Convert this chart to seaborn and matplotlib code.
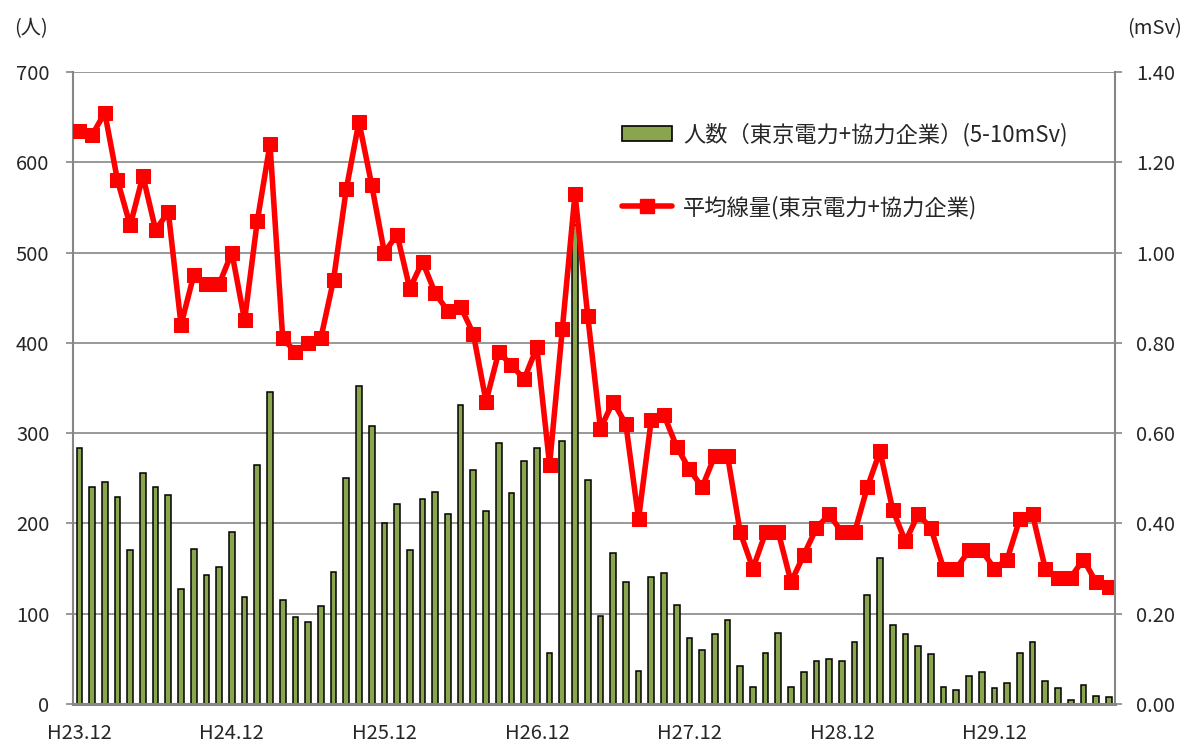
import matplotlib
matplotlib.use("Agg")
import matplotlib.pyplot as plt
from matplotlib.lines import Line2D
from matplotlib.patches import Patch
import numpy as np
import seaborn as sns

sns.set_style("white")
plt.rcParams["font.family"] = ["Noto Sans CJK JP", "DejaVu Sans"]

# monthly data from H23.12 onwards
months = [f"H{23 + (i + 11) // 12}.{(i + 11) % 12 + 1}" for i in range(82)]
people = [284, 240, 246, 229, 170, 256, 240, 231, 127, 172,
          143, 152, 190, 118, 265, 346, 115, 96, 91, 108,
          146, 250, 352, 308, 201, 221, 171, 227, 235, 210,
          331, 259, 214, 289, 234, 269, 284, 56, 291, 530,
          248, 97, 167, 135, 36, 141, 145, 110, 73, 60,
          78, 93, 42, 19, 56, 79, 19, 35, 48, 50,
          48, 69, 121, 162, 87, 78, 64, 55, 19, 15,
          31, 35, 18, 23, 56, 69, 26, 18, 4, 21,
          9, 8]
dose = [1.27, 1.26, 1.31, 1.16, 1.06, 1.17, 1.05, 1.09, 0.84, 0.95,
        0.93, 0.93, 1.00, 0.85, 1.07, 1.24, 0.81, 0.78, 0.80, 0.81,
        0.94, 1.14, 1.29, 1.15, 1.00, 1.04, 0.92, 0.98, 0.91, 0.87,
        0.88, 0.82, 0.67, 0.78, 0.75, 0.72, 0.79, 0.53, 0.83, 1.13,
        0.86, 0.61, 0.67, 0.62, 0.41, 0.63, 0.64, 0.57, 0.52, 0.48,
        0.55, 0.55, 0.38, 0.30, 0.38, 0.38, 0.27, 0.33, 0.39, 0.42,
        0.38, 0.38, 0.48, 0.56, 0.43, 0.36, 0.42, 0.39, 0.30, 0.30,
        0.34, 0.34, 0.30, 0.32, 0.41, 0.42, 0.30, 0.28, 0.28, 0.32,
        0.27, 0.26]

bar_label = "人数（東京電力+協力企業）(5-10mSv)"
line_label = "平均線量(東京電力+協力企業)"
BAR_COLOR = "#89A54E"
GRID = "#868686"
FS = 14.5

fig = plt.figure(figsize=(11.91, 7.44), dpi=100)
ax = fig.add_axes([0.0613, 0.0538, 0.875, 0.8494])

sns.barplot(x=months, y=people, color=BAR_COLOR, saturation=1, width=0.45,
            edgecolor="black", linewidth=1.1, ax=ax)
n = len(months)
ax.set_xlim(-0.5, n - 0.5)
ax.set_ylim(0, 700)
ax.set_yticks(range(0, 701, 100))
ax.yaxis.grid(True, color=GRID, lw=1.2)
ax.set_axisbelow(True)
ax.set_xticks(range(0, n, 12))
ax.set_xticklabels([months[i] for i in range(0, n, 12)])
ax.tick_params(axis="x", length=0, pad=14, labelsize=FS)
ax.tick_params(axis="y", length=5, width=1.2, color=GRID, pad=12, labelsize=FS, left=True)
ax.set_xlabel("")
ax.set_ylabel("")
ax.spines["top"].set_visible(False)
ax.spines["right"].set_visible(False)
ax.spines["left"].set_color(GRID)
ax.spines["left"].set_linewidth(1.5)
ax.spines["bottom"].set_color(GRID)
ax.spines["bottom"].set_linewidth(2.2)

ax2 = ax.twinx()
sns.lineplot(x=np.arange(n), y=dose, ax=ax2, color="#FF0000", lw=4,
             marker="s", markersize=9.5, markeredgecolor="#FF0000")
ax2.set_ylim(0, 1.4)
ax2.set_yticks(np.arange(0, 1.41, 0.2))
ax2.set_yticklabels([f"{v:.2f}" for v in np.arange(0, 1.41, 0.2)])
ax2.tick_params(axis="y", length=5, width=1.2, color=GRID, pad=10, labelsize=FS, right=True)
ax2.spines["top"].set_visible(False)
ax2.spines["left"].set_visible(False)
ax2.spines["bottom"].set_visible(False)
ax2.spines["right"].set_color(GRID)
ax2.spines["right"].set_linewidth(1.5)

handles = [Patch(facecolor=BAR_COLOR, edgecolor="black", linewidth=1.2),
           Line2D([0], [0], color="#FF0000", lw=4, marker="s", markersize=9.5)]
fig.legend(handles, [bar_label, line_label], loc="upper left",
           bbox_to_anchor=(0.513, 0.85), frameon=False, fontsize=16,
           handlelength=2.25, handletextpad=0.5, labelspacing=2.2, borderpad=0)

fig.text(0.012, 0.962, "(人)", fontsize=FS, va="center")
fig.text(0.946, 0.962, "(mSv)", fontsize=FS, va="center")

fig.savefig("out.png", dpi=100)
